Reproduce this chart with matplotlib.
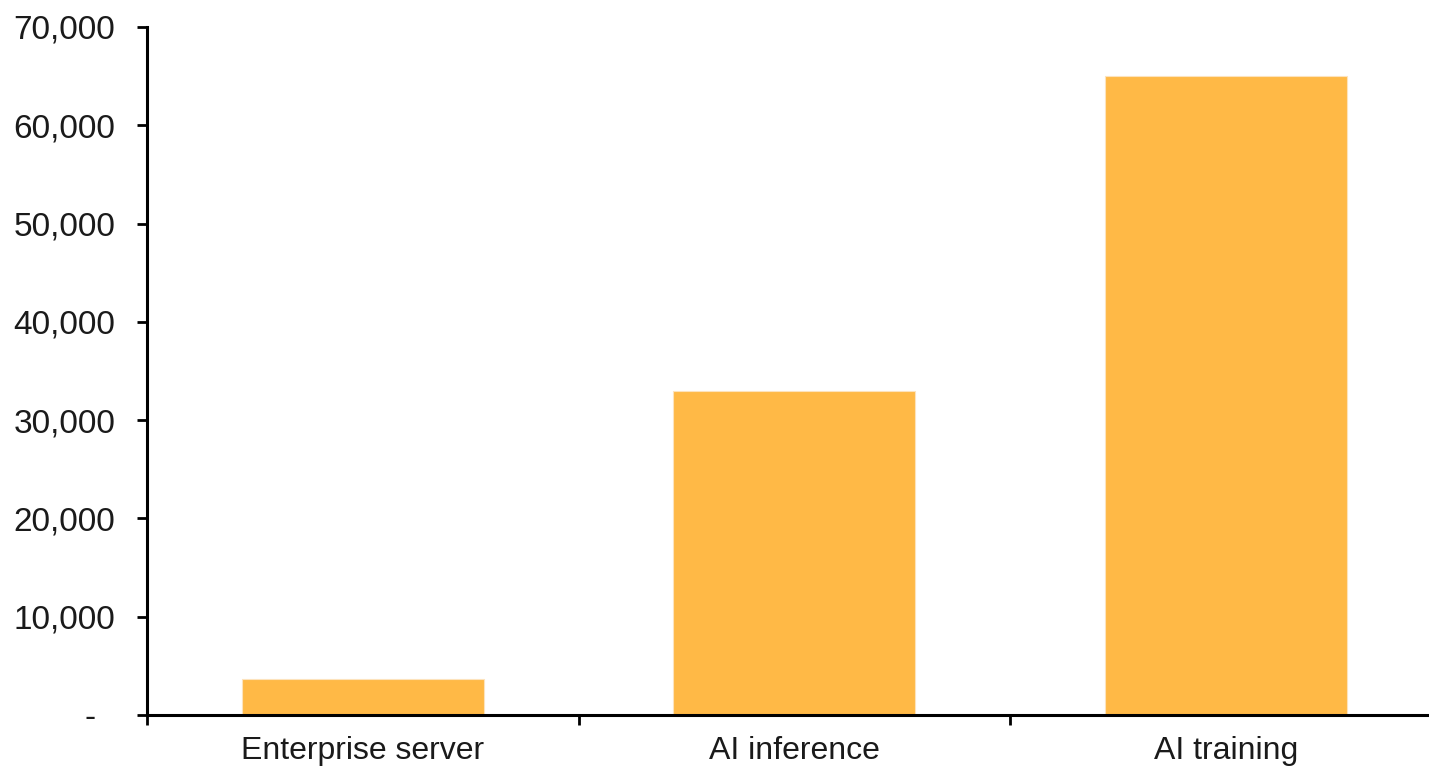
import matplotlib.pyplot as plt
from matplotlib.ticker import FuncFormatter, FixedLocator

# Categories and values
categories = ['Enterprise server', 'AI inference', 'AI training']
values = [3700, 33000, 65000]
yticks = [0, 10000, 20000, 30000, 40000, 50000, 60000, 70000]

bar_color = '#FFB946'
text_color = '#1a1a1a'

plt.rcParams['font.family'] = ['Liberation Sans', 'DejaVu Sans']

fig = plt.figure(figsize=(14.29, 7.67), dpi=100, facecolor='white')
ax = fig.add_axes([0.1029, 0.0678, 0.8971, 0.897])

x = list(range(len(categories)))
ax.bar(x, values, width=0.56, color=bar_color, edgecolor='#FDE3BD', linewidth=0.8)

ax.set_xlim(-0.5, 2.471)
ax.set_ylim(0, 70000)

# y axis: comma thousands, zero shown as a dash
def fmt(v, pos):
    if v == 0:
        return '-  '
    return '{:,.0f}'.format(v)

ax.yaxis.set_major_locator(FixedLocator(yticks))
ax.yaxis.set_major_formatter(FuncFormatter(fmt))

# x axis: labels at centres, ticks at category boundaries
ax.set_xticks(x)
ax.set_xticklabels(categories)
ax.tick_params(axis='x', which='major', length=0, pad=15, labelsize=23)
ax.xaxis.set_minor_locator(FixedLocator([-0.5, 0.5, 1.5, 2.5]))
ax.tick_params(axis='x', which='minor', length=7, width=2, direction='out')

ax.tick_params(axis='y', length=7, width=2, direction='out', pad=16, labelsize=24)
ax.tick_params(axis='both', labelcolor=text_color)

for side in ['top', 'right']:
    ax.spines[side].set_visible(False)
for side in ['left', 'bottom']:
    ax.spines[side].set_linewidth(2.2)
    ax.spines[side].set_color('black')

fig.savefig('out.png', dpi=100, facecolor='white')
